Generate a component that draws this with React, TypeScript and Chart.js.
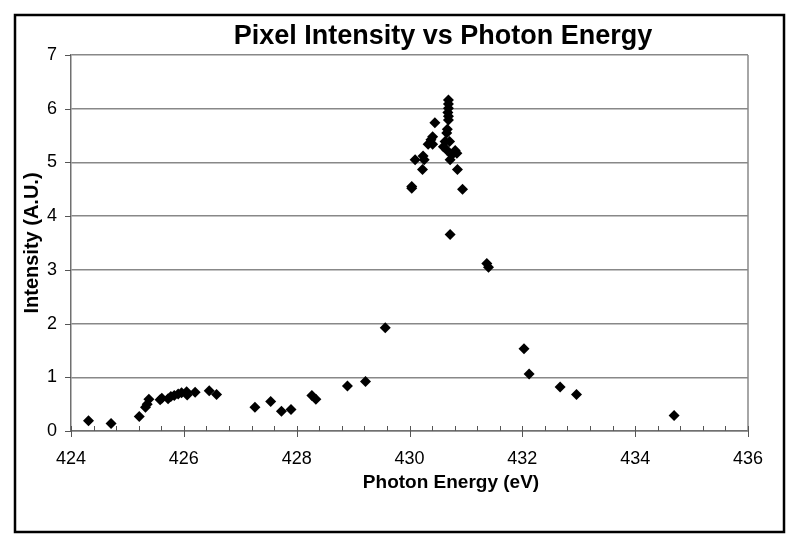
import React, { useEffect, useRef } from "react";
import { Chart, registerables } from "chart.js";

Chart.register(...registerables);

const chartTitle = "Pixel Intensity vs Photon Energy";
const xAxisTitle = "Photon Energy (eV)";
const yAxisTitle = "Intensity (A.U.)";

const energy: number[] = [
  424.31, 424.71, 425.21, 425.32, 425.35, 425.38, 425.58, 425.61, 425.72, 425.77,
  425.83, 425.90, 425.96, 426.05, 426.06, 426.20, 426.45, 426.58, 427.26, 427.54,
  427.73, 427.90, 428.27, 428.34, 428.90, 429.22, 429.57, 430.04, 430.04, 430.10,
  430.23, 430.24, 430.26, 430.33, 430.38, 430.41, 430.41, 430.45, 430.60, 430.63,
  430.66, 430.66, 430.67, 430.68, 430.69, 430.69, 430.69, 430.69, 430.69, 430.71,
  430.72, 430.72, 430.75, 430.81, 430.84, 430.85, 430.94, 431.37, 431.40, 432.03,
  432.12, 432.67, 432.96, 434.69,
];

const intensity: number[] = [
  0.19, 0.14, 0.27, 0.44, 0.50, 0.59, 0.58, 0.61, 0.60, 0.64,
  0.66, 0.69, 0.71, 0.73, 0.67, 0.72, 0.75, 0.68, 0.44, 0.55,
  0.37, 0.40, 0.66, 0.59, 0.84, 0.92, 1.92, 4.55, 4.52, 5.05,
  4.87, 5.12, 5.05, 5.34, 5.42, 5.34, 5.48, 5.74, 5.29, 5.39,
  5.23, 5.55, 5.62, 5.93, 6.01, 6.09, 6.16, 5.86, 5.79, 5.39,
  5.05, 3.66, 5.14, 5.22, 5.17, 4.87, 4.50, 3.12, 3.05, 1.53,
  1.06, 0.82, 0.68, 0.29,
];

const xMin = 424;
const xMax = 436;
const xMajorStep = 2;
const xMinorStep = 0.4;
const yMin = 0;
const yMax = 7;
const yStep = 1;

const FONT = "'Liberation Sans', Arial, sans-serif";
const GRID = "#888888";

const decorPlugin = {
  id: "decor",
  afterDraw(chart: any) {
    const { ctx, chartArea, scales } = chart;
    const xs = scales.x;
    const ys = scales.y;
    ctx.save();
    // plot area right border
    ctx.strokeStyle = GRID;
    ctx.lineWidth = 1.5;
    ctx.beginPath();
    ctx.moveTo(chartArea.right, chartArea.top);
    ctx.lineTo(chartArea.right, chartArea.bottom);
    ctx.stroke();
    // tick marks
    ctx.strokeStyle = "#555555";
    ctx.lineWidth = 1;
    const yb = chartArea.bottom;
    const n = Math.round((xMax - xMin) / xMinorStep);
    const every = Math.round(xMajorStep / xMinorStep);
    for (let i = 0; i <= n; i++) {
      const px = Math.round(xs.getPixelForValue(xMin + i * xMinorStep)) + 0.5;
      ctx.beginPath();
      ctx.moveTo(px, yb - 5);
      ctx.lineTo(px, i % every === 0 ? yb + 6 : yb);
      ctx.stroke();
    }
    for (let v = yMin; v <= yMax; v += yStep) {
      const py = Math.round(ys.getPixelForValue(v)) + 0.5;
      ctx.beginPath();
      ctx.moveTo(chartArea.left - 6, py);
      ctx.lineTo(chartArea.left, py);
      ctx.stroke();
    }
    // outer frame
    ctx.strokeStyle = "#000000";
    ctx.lineWidth = 2.5;
    ctx.strokeRect(15, 15, 769, 517);
    // titles
    ctx.fillStyle = "#000000";
    ctx.textAlign = "center";
    ctx.textBaseline = "middle";
    ctx.font = `bold 27px ${FONT}`;
    ctx.fillText(chartTitle, 443, 37);
    ctx.font = `bold 19px ${FONT}`;
    ctx.fillText(xAxisTitle, 451, 483);
    ctx.restore();
  },
};

export default function App() {
  const ref = useRef<HTMLCanvasElement | null>(null);

  useEffect(() => {
    if (!ref.current) return;
    const points = energy.map((e, i) => ({ x: e, y: intensity[i] }));
    const chart = new Chart(ref.current, {
      type: "scatter",
      data: {
        datasets: [
          {
            label: "Intensity",
            data: points,
            pointStyle: "rectRot",
            pointRadius: 5.5,
            borderWidth: 0,
            backgroundColor: "#000000",
            borderColor: "#000000",
          },
        ],
      },
      options: {
        responsive: false,
        animation: false,
        layout: { padding: { top: 55, right: 52, left: 0, bottom: 0 } },
        plugins: {
          legend: { display: false },
          tooltip: { enabled: false },
          title: { display: false },
        },
        scales: {
          x: {
            type: "linear",
            min: xMin,
            max: xMax,
            afterFit: (s: any) => {
              s.height = 118;
            },
            ticks: {
              stepSize: xMajorStep,
              padding: 17,
              color: "#000000",
              font: { family: FONT, size: 18 },
            },
            grid: { display: false, drawTicks: false },
            border: { display: true, color: "#707070", width: 1.5 },
          },
          y: {
            type: "linear",
            min: yMin,
            max: yMax,
            afterFit: (s: any) => {
              s.width = 71;
            },
            ticks: {
              stepSize: yStep,
              padding: 14,
              color: "#000000",
              font: { family: FONT, size: 18 },
            },
            grid: { color: GRID, lineWidth: 1.5, drawTicks: false },
            border: { display: true, color: "#707070", width: 1.5 },
            title: {
              display: true,
              text: yAxisTitle,
              color: "#000000",
              font: { family: FONT, size: 20, weight: "bold" },
              padding: { top: 20, bottom: 0 },
            },
          },
        },
      },
      plugins: [decorPlugin],
    });
    return () => chart.destroy();
  }, []);

  return (
    <div style={{ position: "fixed", left: 0, top: 0, width: 800, height: 549, background: "#ffffff" }}>
      <canvas ref={ref} width={800} height={549} />
    </div>
  );
}
